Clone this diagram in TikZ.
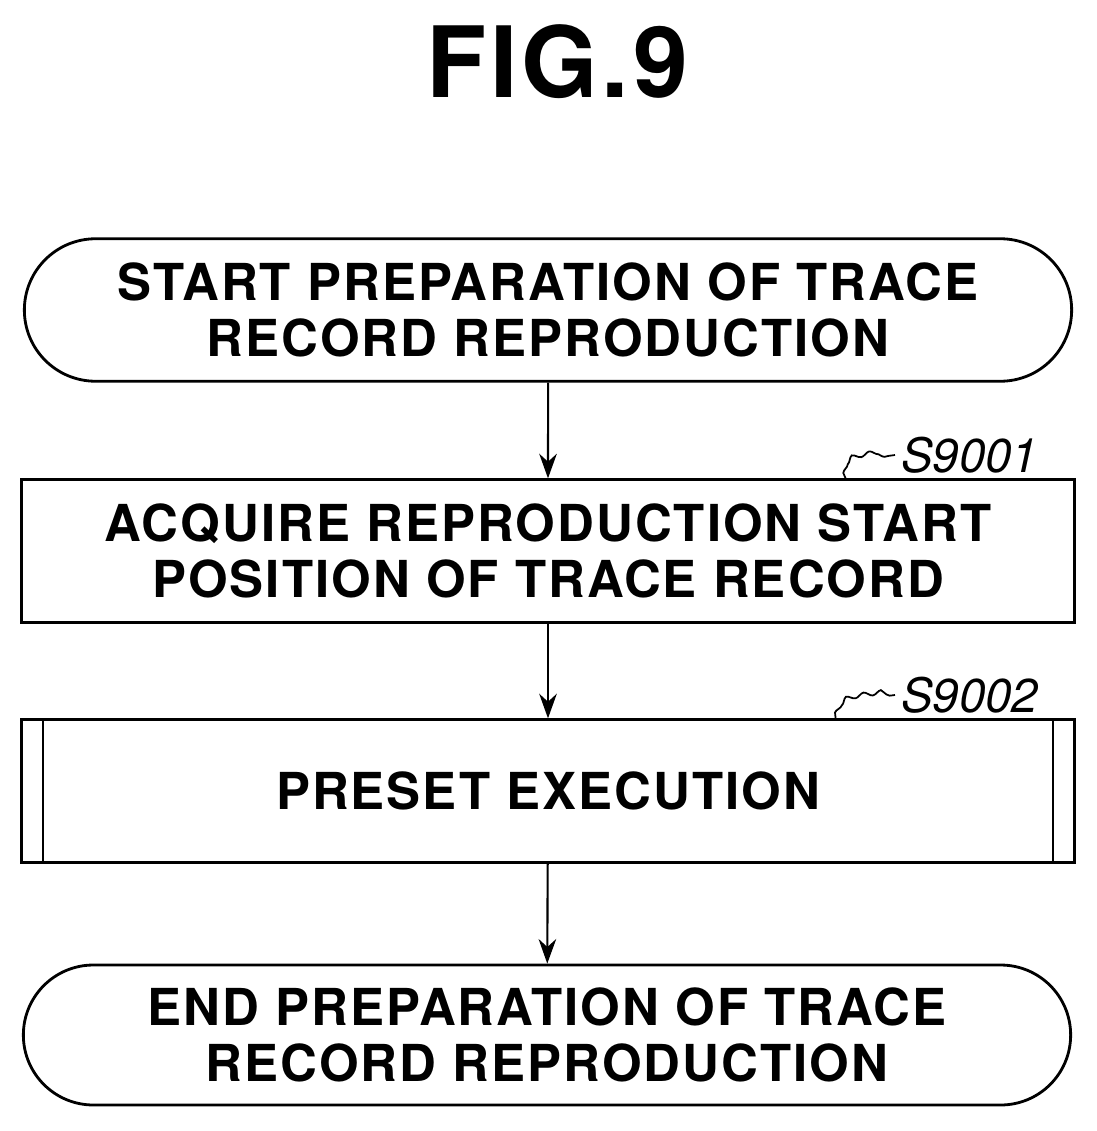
\documentclass[tikz,border=0pt]{standalone}
\usepackage{fontspec}
\setmainfont{TeX Gyre Heros}
\newfontfamily\widefont[LetterSpace=4]{TeX Gyre Heros}
\usetikzlibrary{positioning,shapes.misc,arrows.meta,decorations.pathmorphing}
\tikzset{
  flow/.style={draw,line width=1.6pt,font=\widefont\fontsize{29}{32}\selectfont\bfseries,align=center,minimum width=21.05cm,minimum height=2.85cm,inner sep=0pt},
  term/.style={flow,rounded rectangle,minimum width=20.95cm},
  arr/.style={-{Stealth[length=14pt,width=10pt]},line width=1.2pt},
  steplabel/.style={font=\fontsize{27}{27}\selectfont\itshape},
  leader/.style={line width=1pt,decorate,decoration={snake,amplitude=1.2pt,segment length=10pt}}
}
\begin{document}
\begin{tikzpicture}[x=0.02cm,y=-0.02cm]
\useasboundingbox (0,0) rectangle (1096,1131);

\node[font=\widefont\fontsize{56}{56}\selectfont\bfseries] (fig) at (557,62) {FIG.9};

\node[term] (start) at (548,310) {START PREPARATION OF TRACE\\RECORD REPRODUCTION};
\node[flow] (acq) at (548,551) {ACQUIRE REPRODUCTION START\\POSITION OF TRACE RECORD};
\node[flow] (pre) at (548,791) {PRESET EXECUTION};
\node[term,minimum height=2.8cm] (end) at (547,1035) {END PREPARATION OF TRACE\\RECORD REPRODUCTION};

% predefined process bars
\draw[line width=1.6pt] ([xshift=0.45cm]pre.north west) -- ([xshift=0.45cm]pre.south west);
\draw[line width=1.6pt] ([xshift=-0.45cm]pre.north east) -- ([xshift=-0.45cm]pre.south east);

\draw[arr] (start) -- (acq);
\draw[arr] (acq) -- (pre);
\draw[arr] (pre) -- (end);

% step labels
\node[steplabel,anchor=west] (s1) at (895,455) {S9001};
\node[steplabel,anchor=west] (s2) at (895,695) {S9002};
\draw[leader] ([xshift=-4.6cm]acq.north east) .. controls (845,462) .. (s1.west);
\draw[leader] ([xshift=-4.8cm]pre.north east) .. controls (840,702) .. (s2.west);
\end{tikzpicture}
\end{document}
